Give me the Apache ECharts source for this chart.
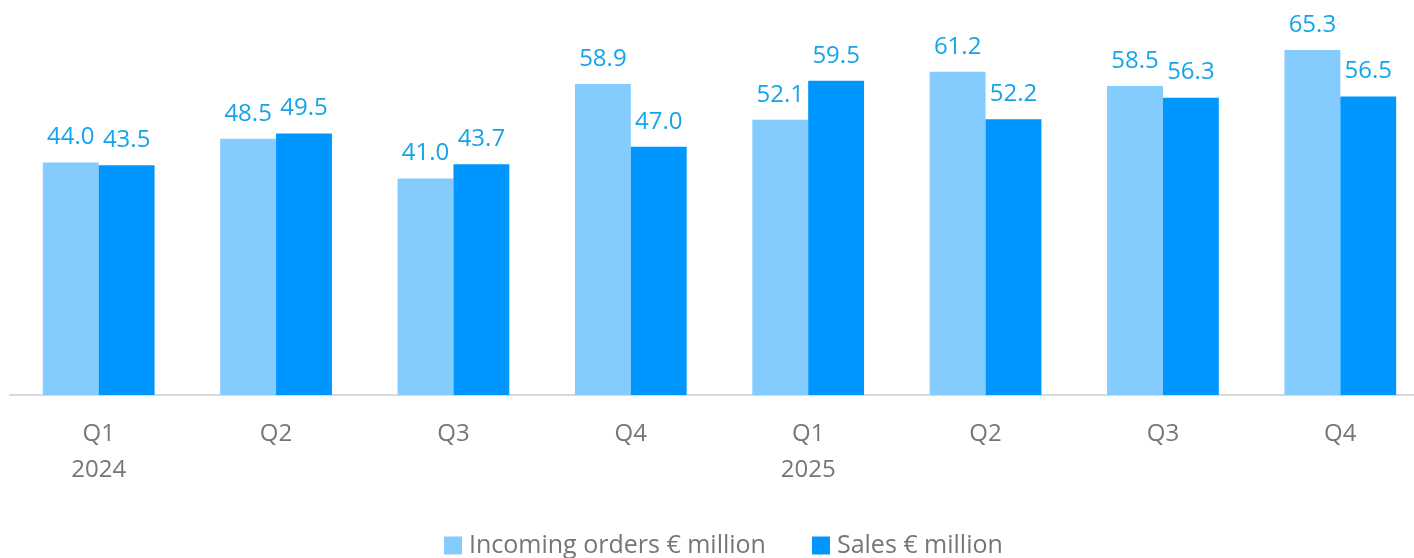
<!DOCTYPE html>
<html>
<head>
<meta charset="utf-8">
<script src="https://cdn.jsdelivr.net/npm/echarts@6/dist/echarts.min.js"></script>
<style>
  html, body { margin: 0; padding: 0; background: #fff; }
  #chart { width: 1414px; height: 558px; }
</style>
</head>
<body>
<div id="chart"></div>
<script>
// quarters, year shown under Q1
const quarters = ['Q1\n2024', 'Q2', 'Q3', 'Q4', 'Q1\n2025', 'Q2', 'Q3', 'Q4'];
const incomingOrders = [44.0, 48.5, 41.0, 58.9, 52.1, 61.2, 58.5, 65.3];
const sales = [43.5, 49.5, 43.7, 47.0, 59.5, 52.2, 56.3, 56.5];

const chart = echarts.init(document.getElementById('chart'));

const labelStyle = {
  show: true,
  position: 'top',
  distance: 13,
  color: '#15a4ea',
  fontSize: 24,
  fontFamily: 'Open Sans',
  formatter: p => p.value.toFixed(1)
};

chart.setOption({
  animation: false,
  textStyle: { fontFamily: 'Open Sans' },
  // last category runs a little past the right edge in the original
  grid: { left: 10, width: 1419, top: 20, bottom: 163, outerBoundsMode: 'none', containLabel: false },
  legend: {
    bottom: -5,
    left: 439,
    itemWidth: 18,
    itemHeight: 18,
    itemGap: 46,
    icon: 'rect',
    textStyle: { color: '#767676', fontSize: 25, fontFamily: 'Open Sans', padding: [0, 0, 0, 2] }
  },
  xAxis: {
    type: 'category',
    data: quarters,
    axisLine: { lineStyle: { color: '#d9d9d9', width: 2 } },
    axisTick: { show: false },
    axisLabel: {
      color: '#767676',
      fontSize: 24,
      lineHeight: 36,
      margin: 21,
      interval: 0
    }
  },
  yAxis: {
    type: 'value',
    min: 0,
    max: 71,
    show: false,
    splitLine: { show: false }
  },
  series: [
    {
      name: 'Incoming orders € million',
      type: 'bar',
      data: incomingOrders,
      barGap: '0%',
      barCategoryGap: '37%',
      itemStyle: { color: '#84ccfd' },
      label: labelStyle
    },
    {
      name: 'Sales € million',
      type: 'bar',
      data: sales,
      itemStyle: { color: '#0096ff' },
      label: labelStyle
    }
  ]
});
</script>
</body>
</html>
